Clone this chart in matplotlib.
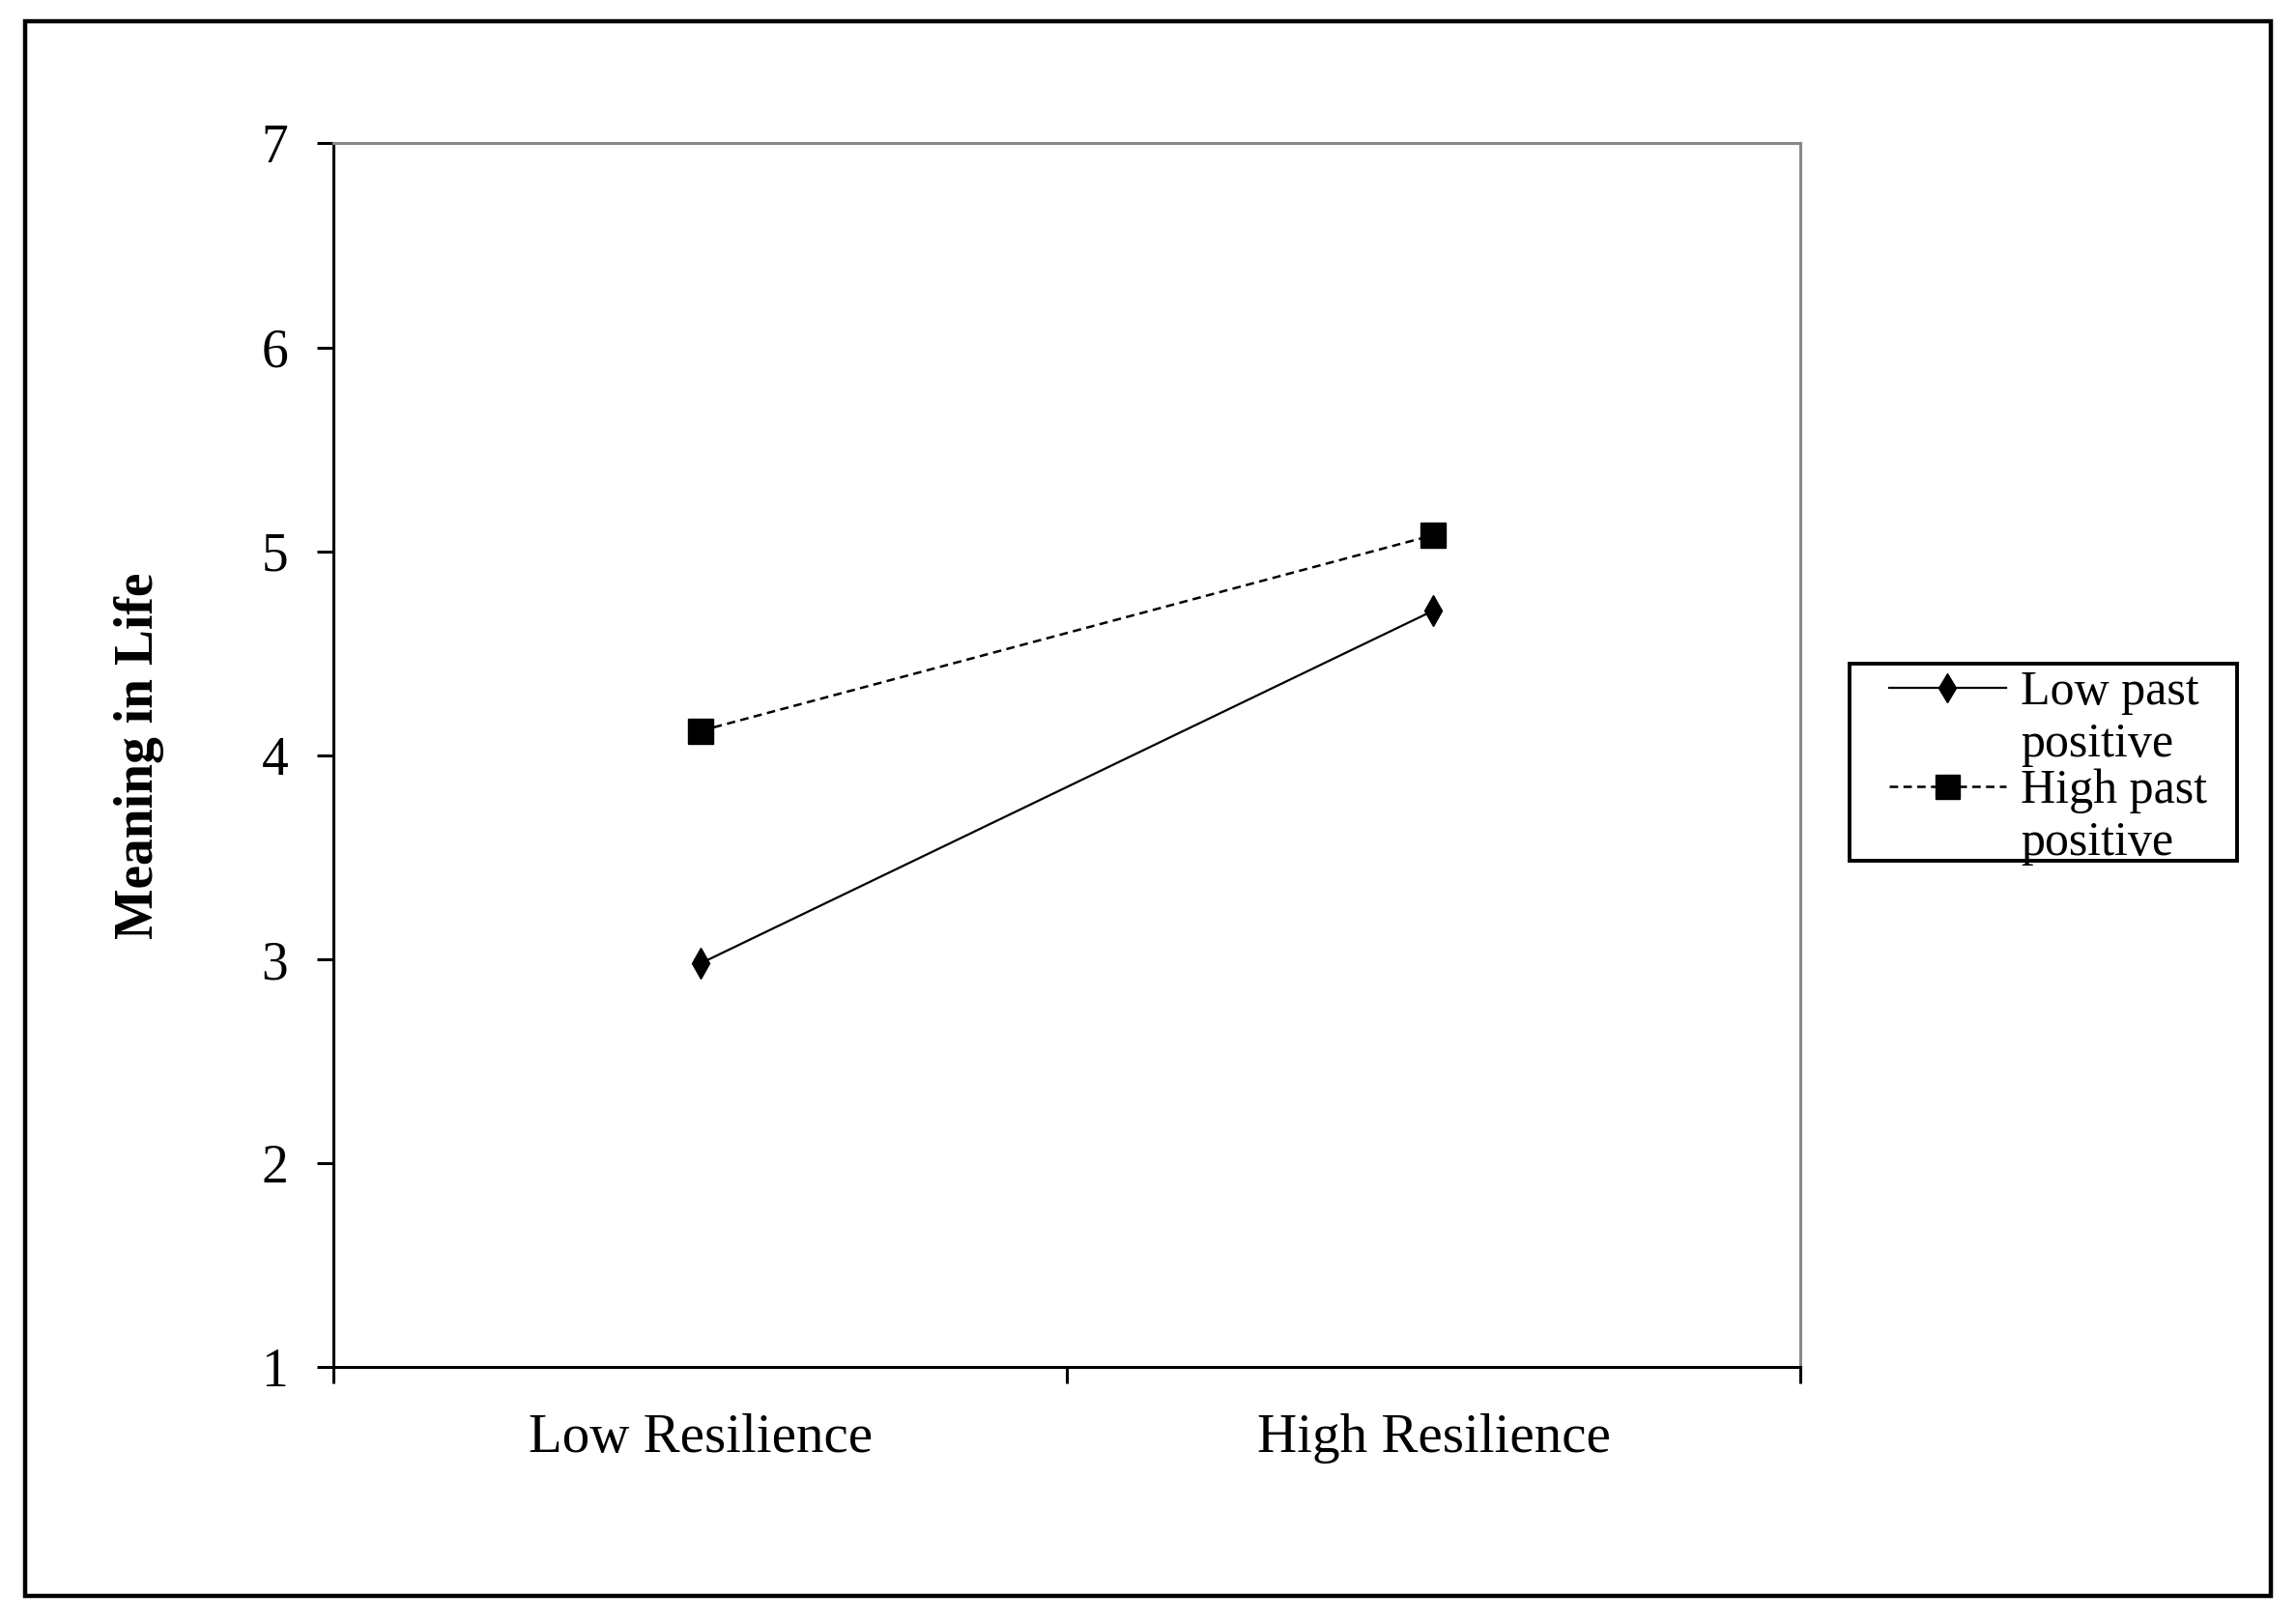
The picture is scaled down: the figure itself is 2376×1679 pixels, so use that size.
import numpy as np
import matplotlib
matplotlib.use('Agg')
import matplotlib.pyplot as plt
from matplotlib.patches import Rectangle
from matplotlib.lines import Line2D

plt.rcParams['font.family'] = ['Liberation Serif', 'DejaVu Serif']

#data
categories = ['Low Resilience', 'High Resilience']
low_past_positive = [2.98, 4.71]
high_past_positive = [4.12, 5.08]
series_labels = ['Low past\npositive', 'High past\npositive']
yticks = [1, 2, 3, 4, 5, 6, 7]

fig = plt.figure(figsize=(23.76, 16.79), dpi=100)
ax = fig.add_axes([0.1454, 0.157, 0.784 - 0.1454, 0.9116 - 0.157])

dash = (0, (3.5, 2.2))
styles = [dict(lw=1.6, ls='-', marker='d', markersize=16),
          dict(lw=1.8, ls=dash, marker='s', markersize=19)]

xpos = np.arange(len(categories)) + 0.5
for vals, st in zip([low_past_positive, high_past_positive], styles):
    ax.plot(xpos, vals, color='black', **st)

ax.set_xlim(0, 2)
ax.set_ylim(1, 7)
ax.set_yticks(yticks)
ax.set_yticklabels([str(t) for t in yticks], fontsize=40)
ax.set_xticks([0, 1, 2])
ax.set_xticklabels([])
ax.set_xticks(xpos, minor=True)
ax.set_xticklabels(categories, minor=True, fontsize=41)
ax.tick_params(axis='x', which='minor', length=0, pad=34)
ax.tick_params(axis='both', which='major', direction='out', length=12,
               width=2.2, color='black')
ax.tick_params(axis='y', pad=22)

for s in ['left', 'bottom']:
    ax.spines[s].set_linewidth(2.2)
    ax.spines[s].set_color('black')
for s in ['top', 'right']:
    ax.spines[s].set_linewidth(2.2)
    ax.spines[s].set_color('#888888')

ax.set_ylabel('Meaning in Life', fontsize=40, fontweight='bold', labelpad=72)

#legend box, drawn by hand so the labels can spill over like the original
fig.patches.append(Rectangle((0.8055, 0.4693), 0.9745 - 0.8055, 0.591 - 0.4693,
                             transform=fig.transFigure, fill=False,
                             edgecolor='black', lw=2.8))
handle_y = [0.5758, 0.5153]
text_y = [0.5569, 0.4963]
for st, lab, hy, ty in zip(styles, series_labels, handle_y, text_y):
    line_kw = {k: v for k, v in st.items() if k not in ('marker', 'markersize')}
    fig.lines.append(Line2D([0.8227, 0.8737], [hy, hy], color='black',
                            transform=fig.transFigure, **line_kw))
    fig.lines.append(Line2D([0.848], [hy], color='black', ls='none',
                            marker=st['marker'], markersize=st['markersize'] - 1,
                            transform=fig.transFigure))
    fig.text(0.880, ty, lab, fontsize=36, va='center', ha='left',
             linespacing=1.2)

#outer frame
fig.patches.append(Rectangle((0.0108, 0.016), 0.989 - 0.0108, 0.987 - 0.016,
                             transform=fig.transFigure, fill=False,
                             edgecolor='black', lw=3.2))

fig.savefig('out.png', dpi=100)
